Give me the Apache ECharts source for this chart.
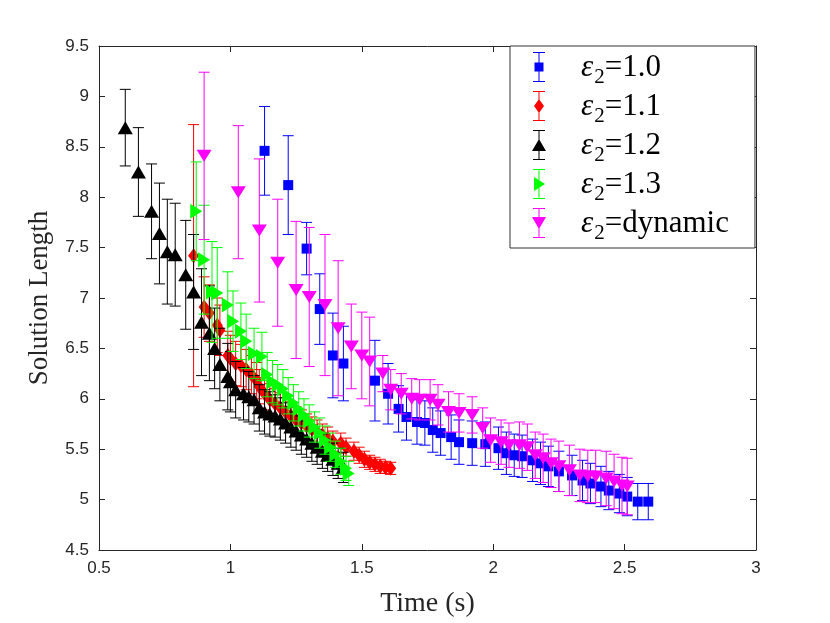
<!DOCTYPE html>
<html lang="en">
<head>
    <meta charset="utf-8">
    <title>Solution length vs time</title>
    <script src="https://cdn.jsdelivr.net/npm/echarts@6/dist/echarts.min.js"></script>
    <style>
        html, body { margin: 0; padding: 0; background: #fff; }
        #chart { width: 830px; height: 623px; }
    </style>
</head>
<body>
    <div id="chart"></div>
    <script type="text/javascript">

    // --- data ---
    // eps2 = 1.0 (blue squares)
    var t10 = [1.13,1.22,1.29,1.34,1.39,1.43,1.55,1.60,1.64,1.67,1.71,1.74,1.77,1.80,1.84,1.87,1.92,1.97,2.02,2.05,2.08,2.11,2.15,2.18,2.21,2.25,2.30,2.34,2.37,2.41,2.44,2.48,2.51,2.55,2.59];
    var len10 = [8.46,8.12,7.49,6.89,6.43,6.35,6.18,6.05,5.90,5.82,5.77,5.76,5.69,5.66,5.62,5.57,5.56,5.55,5.51,5.46,5.44,5.43,5.39,5.36,5.33,5.28,5.24,5.19,5.16,5.13,5.09,5.06,5.03,4.98,4.98];
    var err10 = [0.44,0.49,0.26,0.35,0.42,0.37,0.40,0.30,0.23,0.23,0.22,0.22,0.22,0.22,0.22,0.22,0.22,0.22,0.21,0.21,0.21,0.21,0.21,0.21,0.20,0.20,0.20,0.20,0.20,0.20,0.19,0.19,0.19,0.18,0.18];

    // eps2 = 1.1 (red diamonds)
    var t11 = [0.86,0.90,0.92,0.95,0.96,0.99,1.00,1.02,1.04,1.06,1.08,1.10,1.11,1.13,1.15,1.17,1.19,1.21,1.23,1.25,1.27,1.29,1.31,1.33,1.35,1.37,1.39,1.42,1.44,1.47,1.49,1.51,1.53,1.55,1.57,1.59,1.61];
    var len11 = [7.42,6.91,6.85,6.73,6.68,6.43,6.40,6.35,6.33,6.29,6.24,6.18,6.12,6.05,5.99,5.95,5.91,5.87,5.83,5.79,5.76,5.73,5.70,5.67,5.64,5.61,5.58,5.56,5.52,5.48,5.44,5.40,5.37,5.35,5.33,5.32,5.31];
    var err11 = [1.30,0.30,0.28,0.27,0.25,0.24,0.23,0.22,0.21,0.20,0.19,0.18,0.17,0.16,0.16,0.15,0.15,0.14,0.14,0.13,0.13,0.12,0.12,0.12,0.11,0.11,0.10,0.10,0.09,0.09,0.08,0.08,0.07,0.07,0.07,0.06,0.06];

    // eps2 = 1.2 (black triangles)
    var t12 = [0.60,0.65,0.70,0.73,0.76,0.79,0.83,0.86,0.89,0.92,0.94,0.96,0.99,1.00,1.02,1.05,1.07,1.09,1.11,1.13,1.15,1.17,1.19,1.21,1.23,1.25,1.27,1.29,1.31,1.33,1.35,1.37,1.39,1.41,1.43];
    var len12 = [8.69,8.25,7.86,7.64,7.46,7.43,7.23,7.06,6.76,6.65,6.50,6.34,6.22,6.17,6.09,6.05,6.02,5.99,5.91,5.87,5.85,5.83,5.80,5.76,5.72,5.68,5.64,5.60,5.56,5.52,5.48,5.44,5.40,5.36,5.32];
    var err12 = [0.38,0.44,0.47,0.50,0.52,0.51,0.54,0.57,0.53,0.47,0.40,0.36,0.33,0.30,0.28,0.26,0.25,0.24,0.23,0.22,0.22,0.21,0.21,0.20,0.20,0.19,0.19,0.18,0.18,0.17,0.17,0.16,0.16,0.15,0.15];

    // eps2 = 1.3 (green right triangles)
    var t13 = [0.87,0.90,0.93,0.95,0.99,1.01,1.04,1.06,1.09,1.12,1.14,1.16,1.18,1.20,1.22,1.24,1.26,1.28,1.30,1.32,1.34,1.36,1.38,1.40,1.42,1.44,1.45];
    var len13 = [7.86,7.38,7.06,7.05,6.93,6.77,6.67,6.57,6.45,6.42,6.24,6.17,6.14,6.10,6.03,5.96,5.90,5.84,5.78,5.72,5.66,5.59,5.52,5.45,5.38,5.31,5.26];
    var err13 = [0.49,0.54,0.50,0.45,0.33,0.30,0.28,0.27,0.25,0.24,0.22,0.21,0.20,0.19,0.18,0.18,0.17,0.16,0.16,0.15,0.15,0.14,0.14,0.13,0.13,0.12,0.12];

    // eps2 = dynamic (magenta down triangles)
    var tDyn = [0.90,1.03,1.11,1.18,1.25,1.30,1.36,1.41,1.46,1.50,1.53,1.58,1.61,1.65,1.69,1.72,1.76,1.79,1.83,1.87,1.92,1.96,1.99,2.03,2.06,2.10,2.13,2.16,2.19,2.22,2.25,2.29,2.33,2.36,2.39,2.43,2.46,2.49,2.51];
    var lenDyn = [8.41,8.05,7.67,7.35,7.08,7.01,6.93,6.70,6.52,6.43,6.37,6.25,6.09,6.05,6.00,5.99,5.99,5.94,5.87,5.86,5.84,5.71,5.59,5.57,5.54,5.54,5.52,5.44,5.41,5.36,5.33,5.29,5.24,5.23,5.23,5.21,5.18,5.14,5.13];
    var errDyn = [0.83,0.66,0.71,0.63,0.68,0.69,0.70,0.67,0.42,0.43,0.44,0.18,0.20,0.20,0.20,0.20,0.20,0.20,0.20,0.19,0.18,0.20,0.22,0.22,0.22,0.23,0.23,0.23,0.24,0.24,0.25,0.25,0.26,0.26,0.26,0.27,0.27,0.28,0.28];

    var xTicks = [0.5, 3, 0.5];   // min, max, step
    var yTicks = [4.5, 9.5, 0.5];

    var labels = ['1.0', '1.1', '1.2', '1.3', 'dynamic'];
    var colors = ['#0000ff', '#ff0000', '#000000', '#00ff00', '#ff00ff'];

    // legend icons: error bar + marker
    var icons = [
        'path://M6,0h12v1h-12z M11.5,0h1v30h-1z M6,29h12v1h-12z M7.5,10.5h9v9h-9z',
        'path://M6,0h12v1h-12z M11.5,0h1v30h-1z M6,29h12v1h-12z M12,8l5,7l-5,7l-5,-7z',
        'path://M6,0h12v1h-12z M11.5,0h1v30h-1z M6,29h12v1h-12z M12,9l7,12h-14z',
        'path://M6,0h12v1h-12z M11.5,0h1v30h-1z M6,29h12v1h-12z M7,8l11,7l-11,7z',
        'path://M6,0h12v1h-12z M11.5,0h1v30h-1z M6,29h12v1h-12z M5,9h14l-7,12z'
    ];

    function zip3(a, b, c) {
        var out = [];
        for (var i = 0; i < a.length; i++) out.push([a[i], b[i], c[i]]);
        return out;
    }

    var groups = [
        {t: t10, y: len10, e: err10, symbol: 'rect', size: [10, 10], rotate: 0},
        {t: t11, y: len11, e: err11, symbol: 'diamond', size: [11, 15], rotate: 0},
        {t: t12, y: len12, e: err12, symbol: 'triangle', size: [15, 13], rotate: 0},
        {t: t13, y: len13, e: err13, symbol: 'triangle', size: [15, 12], rotate: -90},
        {t: tDyn, y: lenDyn, e: errDyn, symbol: 'triangle', size: [15, 12], rotate: 180}
    ];

    function errorBar(color) {
        return function (params, api) {
            var x = api.value(0), y = api.value(1), e = api.value(2);
            var hi = api.coord([x, y + e]);
            var lo = api.coord([x, y - e]);
            var hw = 5.5;
            var st = {stroke: color, lineWidth: 1};
            return {
                type: 'group',
                children: [
                    {type: 'line', shape: {x1: hi[0], y1: hi[1], x2: lo[0], y2: lo[1]}, style: st},
                    {type: 'line', shape: {x1: hi[0] - hw, y1: hi[1], x2: hi[0] + hw, y2: hi[1]}, style: st},
                    {type: 'line', shape: {x1: lo[0] - hw, y1: lo[1], x2: lo[0] + hw, y2: lo[1]}, style: st}
                ]
            };
        };
    }

    var series = [];
    groups.forEach(function (g, i) {
        var d = zip3(g.t, g.y, g.e);
        series.push({
            name: labels[i],
            type: 'custom',
            color: colors[i],
            renderItem: errorBar(colors[i]),
            encode: {x: 0, y: 1},
            data: d,
            z: 2 + i * 2,
            silent: true
        });
        series.push({
            name: labels[i],
            type: 'scatter',
            color: colors[i],
            symbol: g.symbol,
            symbolSize: g.size,
            symbolRotate: g.rotate,
            itemStyle: {color: colors[i], opacity: 1},
            data: d.map(function (p) { return [p[0], p[1]]; }),
            z: 3 + i * 2,
            silent: true
        });
    });

    var axisCol = '#262626';
    var tickFont = {color: axisCol, fontSize: 17, fontFamily: 'Liberation Sans, Arial, sans-serif'};

    var chart = echarts.init(document.getElementById('chart'));
    chart.setOption({
        animation: false,
        backgroundColor: '#fff',
        grid: {left: 99, right: 74, top: 46, bottom: 73, show: false},
        legend: {
            orient: 'vertical',
            left: 510,
            top: 46,
            padding: [6, 26, 4, 22],
            itemGap: 3,
            itemWidth: 24,
            itemHeight: 30,
            backgroundColor: '#fff',
            borderColor: '#333',
            borderWidth: 1,
            borderRadius: 0,
            data: labels.map(function (n, i) { return {name: n, icon: icons[i]}; }),
            formatter: function (n) { return '{e|\u03b5}{s|2}{t|=' + n + '}'; },
            textStyle: {
                color: '#000',
                fontFamily: 'Liberation Serif, serif',
                rich: {
                    e: {fontSize: 31, fontStyle: 'italic', fontFamily: 'Liberation Serif', padding: [0, 0, 0, 25], lineHeight: 30, verticalAlign: 'top'},
                    s: {fontSize: 21, fontFamily: 'Liberation Serif', lineHeight: 20, padding: [15, 0, 0, 1], verticalAlign: 'top'},
                    t: {fontSize: 31, fontFamily: 'Liberation Serif', lineHeight: 30, verticalAlign: 'top'}
                }
            }
        },
        xAxis: [{
            type: 'value',
            min: xTicks[0], max: xTicks[1], interval: xTicks[2],
            name: 'Time (s)',
            nameLocation: 'middle',
            nameGap: 40,
            nameTextStyle: {fontFamily: 'Liberation Serif, serif', fontSize: 28, color: axisCol},
            axisLine: {show: true, lineStyle: {color: axisCol, width: 1}},
            axisTick: {show: true, inside: true, length: 6, lineStyle: {color: axisCol}},
            axisLabel: Object.assign({margin: 10, showMinLabel: true, showMaxLabel: true}, tickFont),
            splitLine: {show: false}
        }, {
            type: 'value', position: 'top',
            min: xTicks[0], max: xTicks[1], interval: xTicks[2],
            axisLine: {show: true, onZero: false, lineStyle: {color: axisCol, width: 1}},
            axisTick: {show: true, inside: true, length: 6, lineStyle: {color: axisCol}},
            axisLabel: {show: false},
            splitLine: {show: false}
        }],
        yAxis: [{
            type: 'value',
            min: yTicks[0], max: yTicks[1], interval: yTicks[2],
            name: 'Solution Length',
            nameLocation: 'middle',
            nameGap: 46,
            nameTextStyle: {fontFamily: 'Liberation Serif, serif', fontSize: 27, color: axisCol},
            axisLine: {show: true, lineStyle: {color: axisCol, width: 1}},
            axisTick: {show: true, inside: true, length: 6, lineStyle: {color: axisCol}},
            axisLabel: Object.assign({margin: 10, showMinLabel: true, showMaxLabel: true}, tickFont),
            splitLine: {show: false}
        }, {
            type: 'value', position: 'right',
            min: yTicks[0], max: yTicks[1], interval: yTicks[2],
            axisLine: {show: true, onZero: false, lineStyle: {color: axisCol, width: 1}},
            axisTick: {show: true, inside: true, length: 6, lineStyle: {color: axisCol}},
            axisLabel: {show: false},
            splitLine: {show: false}
        }],
        series: series
    });
    </script>
</body>
</html>
